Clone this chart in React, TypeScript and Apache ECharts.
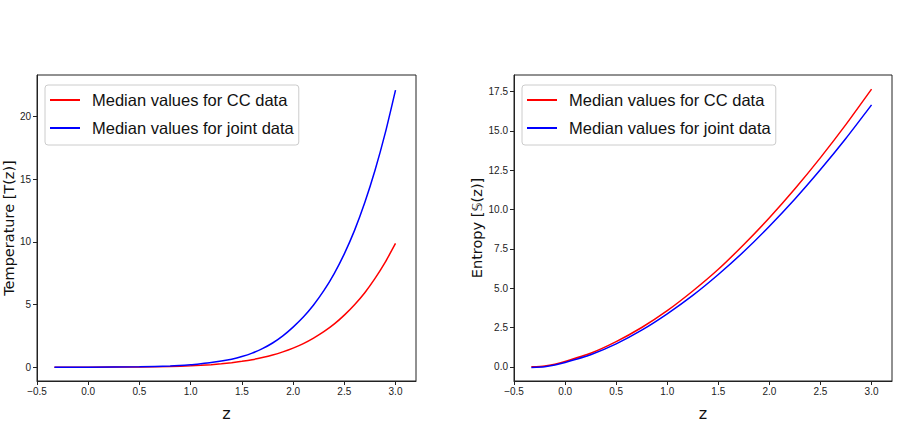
import React, { useEffect, useRef } from "react";
import * as echarts from "echarts";

// ---- data ----
const Z_T = [-0.33, 0.0, 0.5, 0.8, 1.0, 1.1, 1.2, 1.3, 1.4, 1.5, 1.6, 1.7, 1.8, 1.9, 2.0, 2.1, 2.2, 2.3, 2.4, 2.5, 2.6, 2.7, 2.8, 2.9, 3.0];
const T_CC = [0.0, 0.001, 0.017, 0.055, 0.109, 0.15, 0.2, 0.27, 0.36, 0.47, 0.6, 0.77, 0.97, 1.22, 1.52, 1.88, 2.32, 2.83, 3.43, 4.15, 4.98, 5.94, 7.08, 8.38, 9.87];
const T_JOINT = [0.0, 0.002, 0.031, 0.1, 0.2, 0.28, 0.37, 0.49, 0.64, 0.85, 1.12, 1.48, 1.93, 2.5, 3.2, 4.0, 4.96, 6.1, 7.45, 9.04, 10.91, 13.13, 15.7, 18.68, 22.1];

const Z_S = [-0.33, -0.2, -0.1, 0.0, 0.25, 0.5, 0.75, 1.0, 1.25, 1.5, 1.75, 2.0, 2.25, 2.5, 2.75, 3.0];
const S_CC = [0.0, 0.06, 0.17, 0.34, 0.86, 1.6, 2.5, 3.57, 4.82, 6.2, 7.78, 9.48, 11.32, 13.3, 15.41, 17.65];
const S_JOINT = [-0.04, 0.01, 0.12, 0.28, 0.77, 1.46, 2.33, 3.37, 4.54, 5.87, 7.33, 8.94, 10.67, 12.54, 14.53, 16.65];

const X_TICKS = [-0.5, 0.0, 0.5, 1.0, 1.5, 2.0, 2.5, 3.0];
const T_TICKS = [0, 5, 10, 15, 20];
const S_TICKS = [0, 2.5, 5, 7.5, 10, 12.5, 15, 17.5];

const NAME_CC = "Median values for CC data";
const NAME_JOINT = "Median values for joint data";

const TICK_FONT = "'Liberation Sans', Arial, sans-serif";
const LABEL_FONT = "'DejaVu Sans', sans-serif";
const AX = "#222";

const pairs = (xs: number[], ys: number[]) => xs.map((x, i) => [x, ys[i]]);
const minus = (s: string) => s.replace("-", "\u2212");

function xAxisFor(gridIndex: number) {
  return {
    type: "value",
    gridIndex,
    min: -0.5,
    max: 3.2,
    interval: 0.5,
    name: "z",
    nameLocation: "middle",
    nameGap: 24,
    nameTextStyle: { fontFamily: LABEL_FONT, fontSize: 16, color: "#111" },
    axisLine: { show: true, onZero: false, lineStyle: { color: AX, width: 1 } },
    axisTick: { show: true, length: 4, lineStyle: { color: AX }, customValues: X_TICKS },
    axisLabel: {
      show: true,
      margin: 5,
      fontFamily: TICK_FONT,
      fontSize: 10,
      color: "#222",
      customValues: X_TICKS,
      formatter: (v: number) => minus(v.toFixed(1)),
    },
    splitLine: { show: false },
  };
}

function yAxisFor(gridIndex: number, min: number, max: number, ticks: number[], name: string, dec: number, gap: number) {
  return {
    type: "value",
    gridIndex,
    min,
    max,
    name,
    nameLocation: "middle",
    nameGap: gap,
    nameTextStyle: { fontFamily: LABEL_FONT, fontSize: 14.5, color: "#111" },
    axisLine: { show: true, onZero: false, lineStyle: { color: AX, width: 1 } },
    axisTick: { show: true, length: 4, lineStyle: { color: AX }, customValues: ticks },
    axisLabel: {
      show: true,
      margin: 6,
      fontFamily: TICK_FONT,
      fontSize: 10,
      color: "#222",
      customValues: ticks,
      formatter: (v: number) => minus(v.toFixed(dec)),
    },
    splitLine: { show: false },
  };
}

function legendAt(left: number) {
  return {
    orient: "vertical",
    left,
    top: 85,
    data: [NAME_CC, NAME_JOINT],
    icon: "rect",
    itemWidth: 30,
    itemHeight: 2,
    itemGap: 10,
    padding: [6, 5, 8, 5],
    backgroundColor: "rgba(255,255,255,0.8)",
    borderColor: "#cccccc",
    borderWidth: 1,
    borderRadius: 3,
    selectedMode: false,
    textStyle: { fontFamily: TICK_FONT, fontSize: 16.5, color: "#111", padding: [0, 0, 0, 7], lineHeight: 18 },
  };
}

function line(name: string, color: string, xi: number, data: number[][]) {
  return {
    type: "line",
    name,
    xAxisIndex: xi,
    yAxisIndex: xi,
    data,
    symbol: "none",
    smooth: 0.2,
    lineStyle: { color, width: 1.5 },
    itemStyle: { color },
    z: name === NAME_JOINT ? 3 : 2,
  };
}

export default function App() {
  const ref = useRef<HTMLDivElement>(null);
  useEffect(() => {
    if (!ref.current) return;
    const chart = echarts.init(ref.current, undefined, { renderer: "svg" });
    chart.setOption({
      animation: false,
      backgroundColor: "#ffffff",
      grid: [
        { left: 37, top: 75, width: 379, height: 306, show: true, borderColor: AX, borderWidth: 1, backgroundColor: "transparent" },
        { left: 514, top: 75, width: 378, height: 306, show: true, borderColor: AX, borderWidth: 1, backgroundColor: "transparent" },
      ],
      xAxis: [xAxisFor(0), xAxisFor(1)],
      yAxis: [
        yAxisFor(0, -1.1, 23.3, T_TICKS, "Temperature [T(z)]", 0, 15),
        yAxisFor(1, -0.9, 18.55, S_TICKS, "Entropy [\u{1D54A}(z)]", 1, 26),
      ],
      legend: [legendAt(45), legendAt(522)],
      series: [
        line(NAME_CC, "#ff0000", 0, pairs(Z_T, T_CC)),
        line(NAME_JOINT, "#0000ff", 0, pairs(Z_T, T_JOINT)),
        line(NAME_CC, "#ff0000", 1, pairs(Z_S, S_CC)),
        line(NAME_JOINT, "#0000ff", 1, pairs(Z_S, S_JOINT)),
      ],
    });
    return () => chart.dispose();
  }, []);
  return <div ref={ref} style={{ position: "fixed", left: 0, top: 0, width: 899, height: 426, background: "#fff" }} />;
}
